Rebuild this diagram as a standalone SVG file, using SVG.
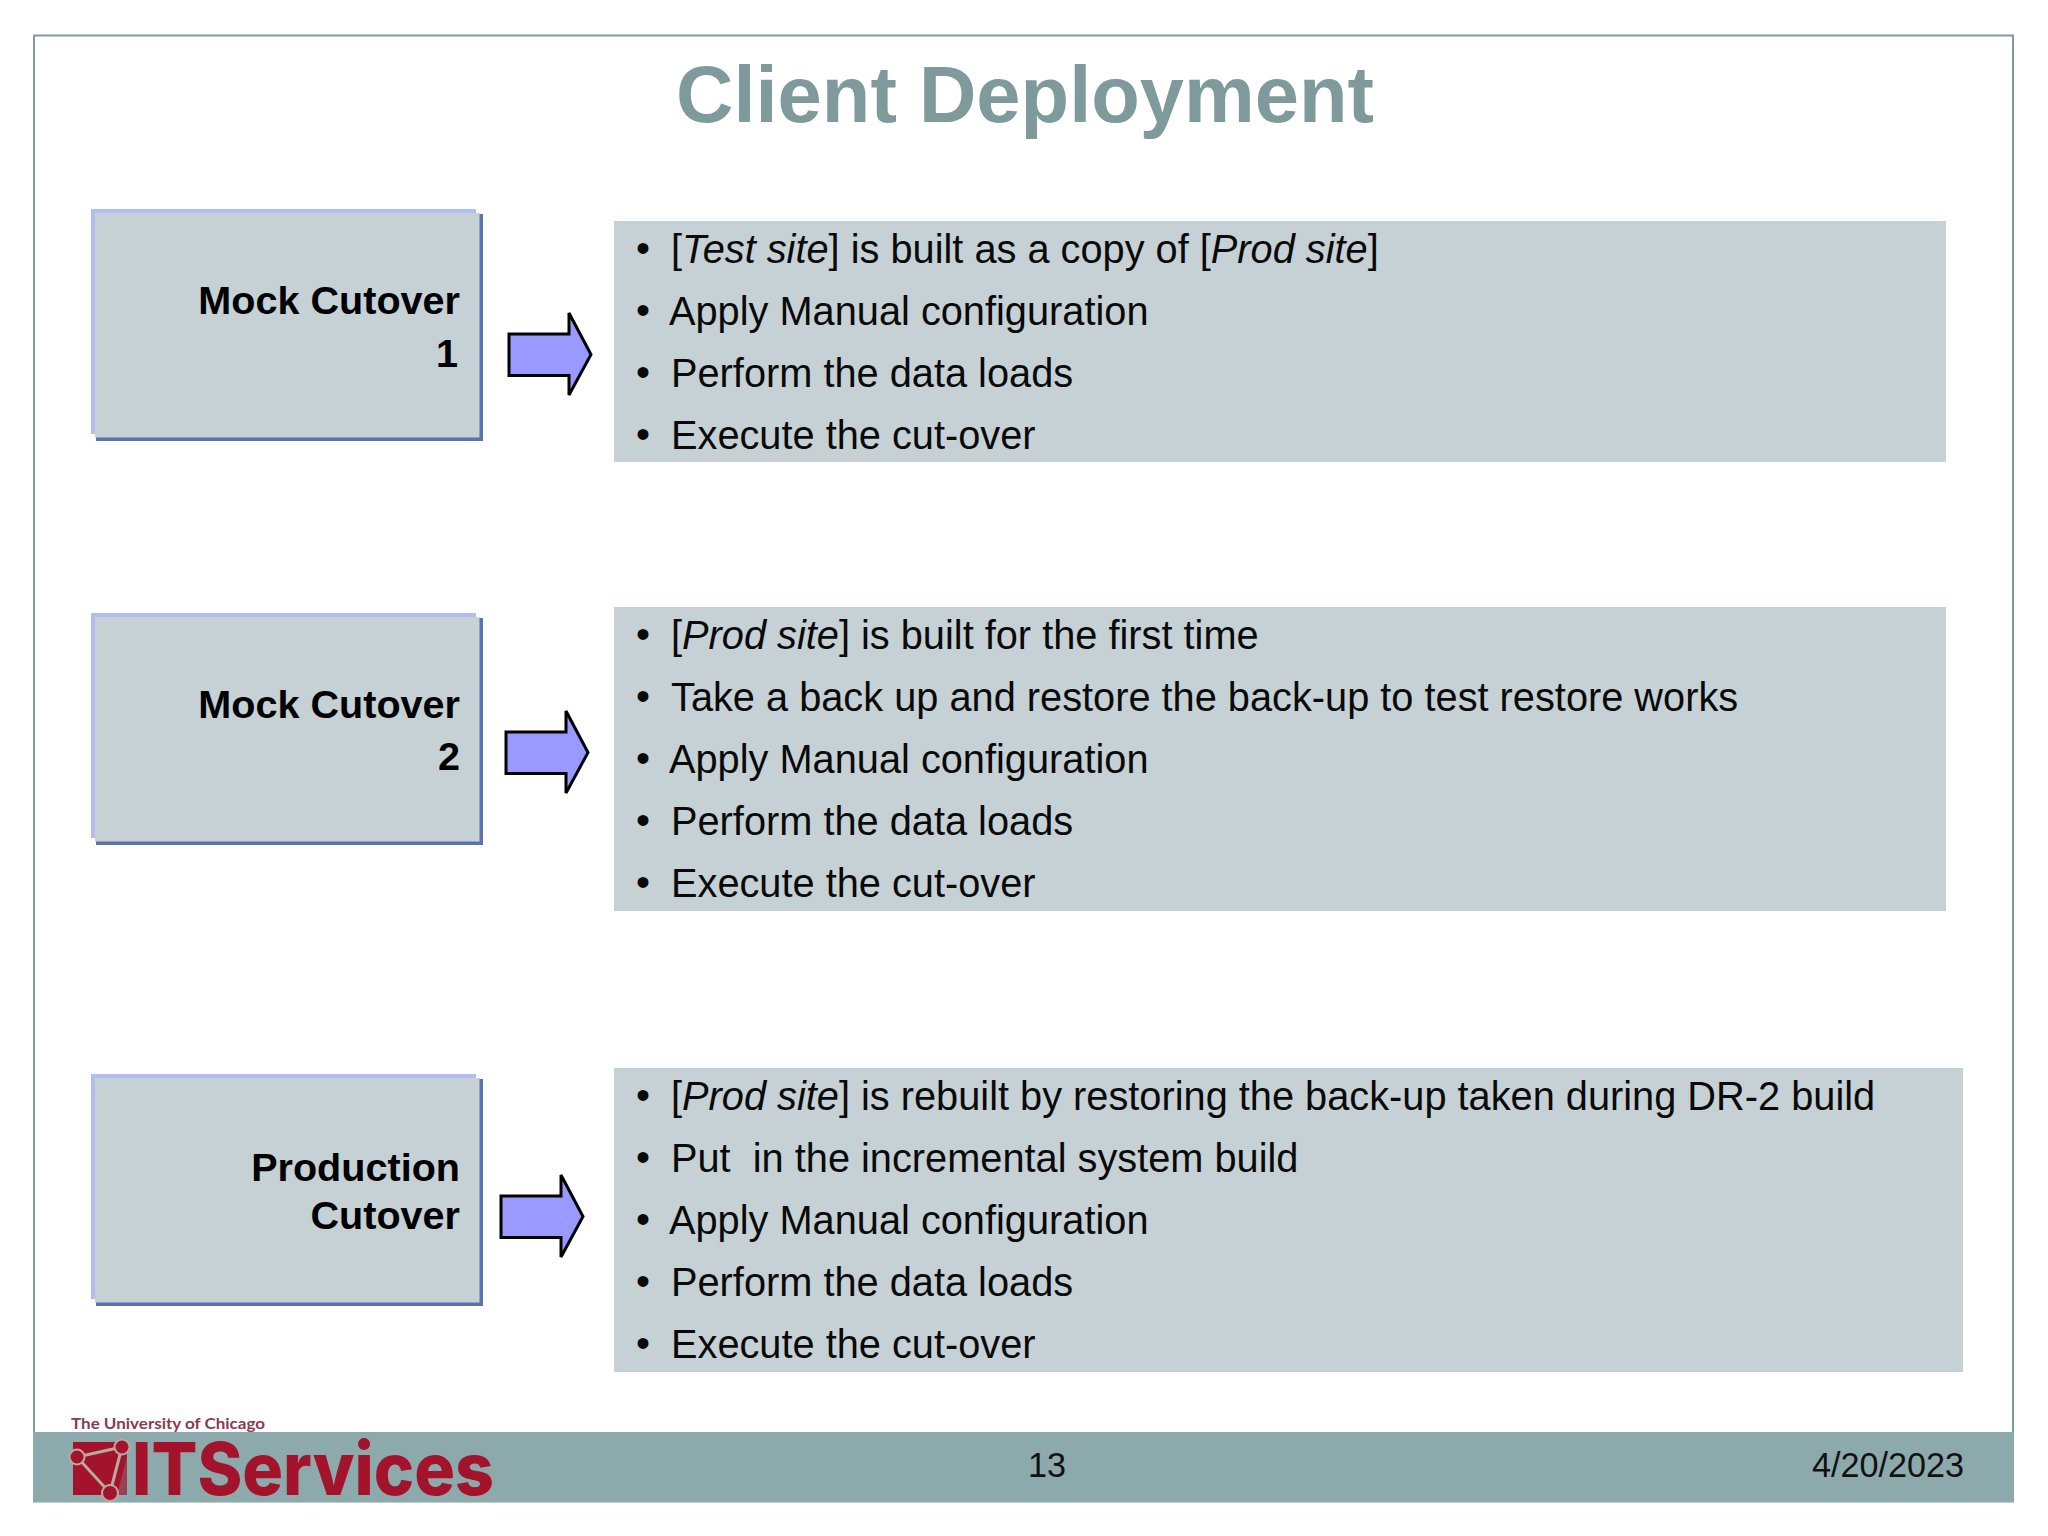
<svg xmlns="http://www.w3.org/2000/svg" width="2048" height="1536" viewBox="0 0 2048 1536">
<style>
text{font-family:"Liberation Sans",Arial,sans-serif}
.title{font-size:79.500px;font-weight:bold;fill:#7e9a9b;text-anchor:middle}
.lbl{font-size:39.600px;font-weight:bold;fill:#000;text-anchor:end}
.li{font-size:39.750px;fill:#0a0a0a;white-space:pre}
.bul{font-size:40px;fill:#0a0a0a}
.panel{fill:#c6d1d5}
.boxfill{fill:#c5d1d4}
.hi{fill:#b2bdf0}
.lo{fill:#5b72ae}
.arrow{fill:#9999ff;stroke:#000;stroke-width:3}
.foot{font-size:34.200px;fill:#111}
</style>
<defs>
<g id="box">
<rect class="lo" x="5" y="5" width="387" height="227"/>
<rect class="hi" x="0" y="0" width="385" height="225"/>
<rect class="boxfill" x="4" y="4" width="384.500" height="224.500"/>
</g>
<path id="arr" d="M0 21H60V0L82 41.500L60 82V62.500H0Z"/>
</defs>
<rect width="2048" height="1536" fill="#fff"/>
<rect x="34" y="35.500" width="1979" height="1466" fill="none" stroke="#7f9c9c" stroke-width="2"/>
<text class="title" x="1025" y="122">Client Deployment</text>

<g id="node-mock1">
<use href="#box" x="91" y="209"/>
<text class="lbl" x="460" y="313.500">Mock Cutover</text>
<text class="lbl" x="458" y="366.500">1</text>
</g>
<g id="node-mock2">
<use href="#box" x="91" y="613"/>
<text class="lbl" x="460" y="717.500">Mock Cutover</text>
<text class="lbl" x="460" y="770">2</text>
</g>
<g id="node-prod">
<use href="#box" x="91" y="1074"/>
<text class="lbl" x="460" y="1180.500">Production</text>
<text class="lbl" x="460" y="1228.500">Cutover</text>
</g>

<g id="connectors">
<use href="#arr" class="arrow" x="509" y="313"/>
<use href="#arr" class="arrow" x="506" y="711"/>
<use href="#arr" class="arrow" x="501" y="1175"/>
</g>

<g id="panel-1">
<rect class="panel" x="614" y="221" width="1332" height="241"/>
<text class="bul" x="636" y="262">•</text><text class="li" x="671" y="262.500">[<tspan font-style="italic">Test site</tspan>] is built as a copy of [<tspan font-style="italic">Prod site</tspan>]</text>
<text class="bul" x="636" y="324">•</text><text class="li" x="669" y="324.500">Apply Manual configuration</text>
<text class="bul" x="636" y="386">•</text><text class="li" x="671" y="386.500">Perform the data loads</text>
<text class="bul" x="636" y="448">•</text><text class="li" x="671" y="448.500">Execute the cut-over</text>
</g>
<g id="panel-2">
<rect class="panel" x="614" y="607" width="1332" height="304"/>
<text class="bul" x="636" y="648">•</text><text class="li" x="671" y="648.500">[<tspan font-style="italic">Prod site</tspan>] is built for the first time</text>
<text class="bul" x="636" y="710">•</text><text class="li" x="671" y="710.500">Take a back up and restore the back-up to test restore works</text>
<text class="bul" x="636" y="772">•</text><text class="li" x="669" y="772.500">Apply Manual configuration</text>
<text class="bul" x="636" y="834">•</text><text class="li" x="671" y="834.500">Perform the data loads</text>
<text class="bul" x="636" y="896">•</text><text class="li" x="671" y="896.500">Execute the cut-over</text>
</g>
<g id="panel-3">
<rect class="panel" x="614" y="1068" width="1349" height="304"/>
<text class="bul" x="636" y="1109">•</text><text class="li" x="671" y="1109.500">[<tspan font-style="italic">Prod site</tspan>] is rebuilt by restoring the back-up taken during DR-2 build</text>
<text class="bul" x="636" y="1171">•</text><text class="li" x="671" y="1171.500">Put  in the incremental system build</text>
<text class="bul" x="636" y="1233">•</text><text class="li" x="669" y="1233.500">Apply Manual configuration</text>
<text class="bul" x="636" y="1295">•</text><text class="li" x="671" y="1295.500">Perform the data loads</text>
<text class="bul" x="636" y="1357">•</text><text class="li" x="671" y="1357.500">Execute the cut-over</text>
</g>

<g id="footer">
<rect x="33" y="1432" width="1981" height="70" fill="#8caaac"/>
<text x="71" y="1429" font-size="15" font-weight="bold" fill="#8c3a50" style="font-family:Lato,sans-serif" textLength="194" lengthAdjust="spacingAndGlyphs">The University of Chicago</text>
<g id="logo-icon">
<rect x="73" y="1442" width="54" height="53" fill="#a3132b"/>
<path d="M77 1457L122 1447L110 1493Z" fill="none" stroke="#b9a9a0" stroke-width="3"/>
<path d="M127 1456V1495H117Z" fill="#8caaac" opacity="0.3"/>
<circle cx="77" cy="1457" r="7.500" fill="#a3132b" stroke="#b9a9a0" stroke-width="2"/>
<circle cx="122" cy="1447" r="7.500" fill="#a3132b" stroke="#b9a9a0" stroke-width="2"/>
<circle cx="110" cy="1493" r="8" fill="#a3132b" stroke="#b9a9a0" stroke-width="2"/>
</g>
<text x="132" y="1495" font-size="73" font-weight="800" fill="#a3132b" style="font-family:Inter,sans-serif" textLength="362" lengthAdjust="spacingAndGlyphs">ITServices</text>
<text class="foot" x="1047" y="1477" text-anchor="middle">13</text>
<text class="foot" x="1964" y="1477" text-anchor="end">4/20/2023</text>
</g>
</svg>
